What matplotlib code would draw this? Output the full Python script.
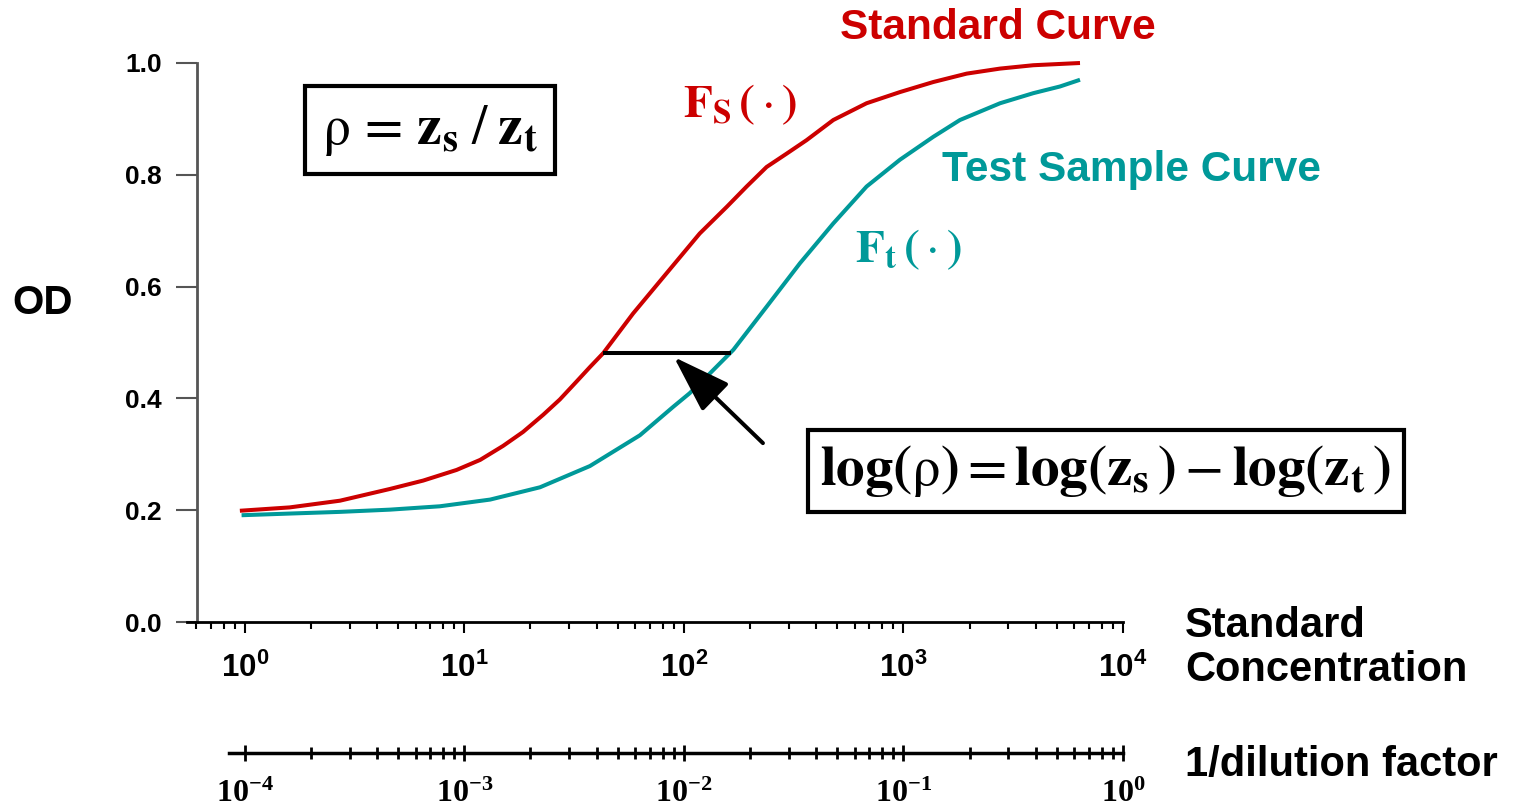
import matplotlib
matplotlib.use("Agg")
import matplotlib.pyplot as plt
from matplotlib.ticker import FixedLocator

plt.rcParams["mathtext.fontset"] = "stix"
plt.rcParams["font.family"] = ["Liberation Sans", "DejaVu Sans"]

# standard curve: concentration vs OD
std_conc = [0.949, 1.60, 2.71, 4.58, 6.49, 9.21, 11.8, 15.0, 18.5, 22.9, 27.2, 32.4, 37.3,
            42.9, 58.7, 83.4, 118, 157, 193, 238, 294, 362, 479, 679, 964, 1368, 1941,
            2754, 3900, 6370]
std_od = [0.199, 0.205, 0.217, 0.238, 0.253, 0.272, 0.290, 0.315, 0.340, 0.371, 0.398,
          0.430, 0.456, 0.481, 0.552, 0.624, 0.695, 0.743, 0.779, 0.814, 0.838, 0.862,
          0.898, 0.928, 0.948, 0.966, 0.981, 0.990, 0.996, 1.0]

# test sample curve
test_conc = [0.966, 1.60, 2.71, 4.58, 7.73, 13.1, 22.1, 37.3, 63.0, 89.4, 106, 127, 168,
             238, 338, 479, 679, 964, 1368, 1808, 2754, 3900, 5164, 6370]
test_od = [0.191, 0.194, 0.197, 0.201, 0.207, 0.219, 0.241, 0.279, 0.334, 0.385, 0.409,
           0.439, 0.487, 0.564, 0.642, 0.713, 0.779, 0.827, 0.868, 0.898, 0.928, 0.946,
           0.958, 0.970]

# equal-OD segment between the curves and the arrow pointing at it
od_level = 0.481
z_s, z_t = 42.9, 163
arrow_tail = (229, 0.32)
arrow_tip = (90, 0.474)

y_ticks = [0.0, 0.2, 0.4, 0.6, 0.8, 1.0]
y_ticklabels = ["0.0", "0.2", "0.4", "0.6", "0.8", "1.0"]

RED = "#cc0000"
TEAL = "#009999"

W, H = 1519, 811
fig = plt.figure(figsize=(W / 100, H / 100), dpi=100)


def fx(px):
    return px / W


def fy(py):
    return 1 - py / H


ax_left, ax_right = 187, 1123
ax = fig.add_axes([fx(ax_left), fy(622), fx(ax_right - ax_left), fy(63) - fy(622)])
ax.set_xscale("log")
ax.set_xlim(0.545, 1e4)
ax.set_ylim(0, 1.0)

ax.plot(std_conc, std_od, color=RED, lw=2.9, clip_on=False, solid_capstyle="butt")
ax.plot(test_conc, test_od, color=TEAL, lw=2.9, clip_on=False, solid_capstyle="butt")
ax.plot([z_s, z_t], [od_level, od_level], color="black", lw=2.9, solid_capstyle="butt")
ax.annotate("", xy=arrow_tip, xytext=arrow_tail,
            arrowprops=dict(arrowstyle="-|>,head_length=1.2,head_width=0.4",
                            color="black", lw=2.9, mutation_scale=30,
                            shrinkA=0, shrinkB=0))

for side in ("top", "right"):
    ax.spines[side].set_visible(False)
ax.spines["left"].set_position(("data", 0.604))
ax.spines["left"].set_color("#555555")
ax.spines["left"].set_linewidth(2)
ax.spines["bottom"].set_linewidth(2)

ax.set_yticks(y_ticks)
ax.set_yticklabels(y_ticklabels)
ax.tick_params(axis="y", direction="out", length=15, width=1.5, color="#555555", pad=10,
               labelsize=19)
for lbl in ax.get_yticklabels():
    lbl.set_fontweight("bold")

ax.set_xticks([1, 10, 100, 1000, 10000])
ax.set_xticklabels([r"$\mathdefault{10^{%d}}$" % k for k in range(5)])
ax.tick_params(axis="x", which="major", direction="out", length=8, width=1.5, pad=14,
               labelsize=22.5)
ax.tick_params(axis="x", which="minor", direction="out", length=5, width=1.5)
for lbl in ax.get_xticklabels():
    lbl.set_fontweight("bold")

# second scale: 1/dilution factor
ax2 = fig.add_axes([fx(ax_left), fy(753), fx(ax_right - ax_left), 0.0001])
ax2.set_xscale("log")
ax2.set_xlim(0.545e-4, 1.0)
ax2.set_yticks([])
for side in ("top", "right", "left"):
    ax2.spines[side].set_visible(False)
ax2.patch.set_visible(False)
ax2.spines["bottom"].set_linewidth(2.5)
ax2.spines["bottom"].set_bounds(8.5e-5, 1.0)
ax2.set_xticks([1e-4, 1e-3, 1e-2, 1e-1, 1])
ax2.set_xticklabels([r"$\mathdefault{10^{%d}}$" % k for k in range(-4, 1)])
ax2.xaxis.set_minor_locator(FixedLocator(
    [m * 10.0 ** e for e in range(-4, 0) for m in range(2, 10)]))
ax2.tick_params(axis="x", which="major", direction="inout", length=12, width=2, pad=13,
                labelsize=23)
ax2.tick_params(axis="x", which="minor", direction="inout", length=9, width=2)
for lbl in ax2.get_xticklabels():
    lbl.set_family("Liberation Serif")
    lbl.set_fontweight("bold")

# axis titles
fig.text(fx(12), fy(303), "OD", fontsize=29, fontweight="bold", ha="left", va="center")
fig.text(fx(1185), fy(648), "Standard\nConcentration", fontsize=30, fontweight="bold",
         ha="left", va="center", linespacing=1.15)
fig.text(fx(1185), fy(765), "1/dilution factor", fontsize=30, fontweight="bold",
         ha="left", va="center")

# curve labels
fig.text(fx(998), fy(28), "Standard Curve", fontsize=30.5, fontweight="bold", color=RED,
         ha="center", va="center")
fig.text(fx(1132), fy(170), "Test Sample Curve", fontsize=30.5, fontweight="bold", color=TEAL,
         ha="center", va="center")
fig.text(fx(740), fy(105), r"$\mathbf{F}_\mathbf{S}\,\mathbf{(}\cdot\mathbf{)}$", fontsize=34,
         color=RED, ha="center", va="center")
fig.text(fx(908), fy(250), r"$\mathbf{F}_\mathbf{t}\,\mathbf{(}\cdot\mathbf{)}$", fontsize=34,
         color=TEAL, ha="center", va="center")

# formula boxes
fig.text(fx(430), fy(130),
         r"$\mathrm{\rho}\,=\,\mathbf{z}_\mathbf{s}\;/\;\mathbf{z}_\mathbf{t}$",
         fontsize=40, ha="center", va="center",
         bbox=dict(boxstyle="square,pad=0.3", fc="white", ec="black", lw=3))
fig.text(fx(1106), fy(471),
         r"$\mathbf{log(}\mathrm{\rho}\mathbf{)} = \mathbf{log(z_s\,)} - \mathbf{log(z_t\,)}$",
         fontsize=41, ha="center", va="center",
         bbox=dict(boxstyle="square,pad=0.22", fc="white", ec="black", lw=3))

fig.savefig("out.png", dpi=100)
